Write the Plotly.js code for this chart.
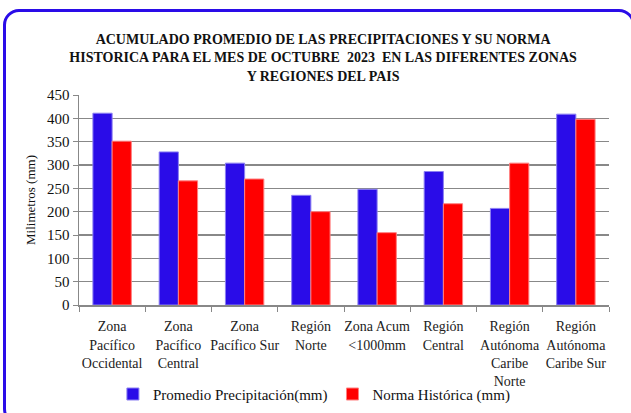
<!DOCTYPE html>
<html><head><meta charset="utf-8">
<script src="https://cdn.plot.ly/plotly-3.0.1.min.js"></script>
<style>
html,body{margin:0;padding:0;background:#fff;overflow:hidden;}
#frame{position:absolute;left:3px;top:9px;width:626px;height:410px;border:3px solid #2a0ce8;border-radius:16px;}
#chart{position:absolute;left:0;top:0;width:631px;height:413px;}
</style></head>
<body>
<div id="frame"></div>
<div id="chart"></div>
<script>
const categories = ["Zona<br>Pacífico<br>Occidental","Zona<br>Pacífico<br>Central","Zona<br>Pacífico Sur","Región<br>Norte","Zona Acum<br><1000mm","Región<br>Central","Región<br>Autónoma<br>Caribe<br>Norte","Región<br>Autónoma<br>Caribe Sur"];
const promedio = [411, 328, 304, 235, 248, 286, 207, 409];
const norma = [351, 266, 270, 200, 155, 217, 304, 398];
const yTicks = [0,50,100,150,200,250,300,350,400,450];

const font = "Liberation Serif, serif";
const data = [
  {type:"bar", x:categories, y:promedio, name:"Promedio Precipitación(mm)",
   marker:{color:"#2a0ce8", line:{color:"#8c80f2", width:1}}},
  {type:"bar", x:categories, y:norma, name:"Norma Histórica (mm)",
   marker:{color:"#ff0000", line:{color:"#ff8080", width:1}}}
];
const layout = {
  width:631, height:413,
  margin:{l:79, r:22, t:95, b:108, autoexpand:false},
  paper_bgcolor:"rgba(0,0,0,0)", plot_bgcolor:"rgba(0,0,0,0)",
  font:{family:font, size:14, color:"#111"},
  title:{text:"ACUMULADO PROMEDIO DE LAS PRECIPITACIONES Y SU NORMA<br>HISTORICA PARA EL MES DE OCTUBRE  2023  EN LAS DIFERENTES ZONAS<br>Y REGIONES DEL PAIS",
         font:{family:font, size:14, color:"#111", weight:"bold"},
         xref:"container", x:0.512, xanchor:"center", yref:"container", y:0.893, yanchor:"top"},
  barmode:"group", bargap:0.42, bargroupgap:0,
  xaxis:{type:"category", tickson:"boundaries", ticks:"outside", ticklen:5, tickcolor:"#888",
         showline:true, linecolor:"#888", linewidth:1.5, tickfont:{family:font, size:14, color:"#222"},
         showgrid:false, tickangle:0, ticklabelstandoff:8},
  yaxis:{range:[0,450], tickvals:yTicks, ticks:"outside", ticklen:5, tickcolor:"#888",
         showline:true, linecolor:"#888", linewidth:1.5, gridcolor:"#888", gridwidth:1.5,
         tickfont:{family:font, size:15, color:"#111"}, zeroline:false,
         title:{text:"Milimetros (mm)", font:{family:font, size:13, color:"#111"}, standoff:8}},
  showlegend:true,
  legend:{orientation:"h", x:0.064, xanchor:"left", y:-0.425, yanchor:"middle",
          font:{family:font, size:15, color:"#111"}, bgcolor:"rgba(0,0,0,0)", itemwidth:30}
};
Plotly.newPlot("chart", data, layout, {displayModeBar:false, staticPlot:true});
</script>
</body></html>
